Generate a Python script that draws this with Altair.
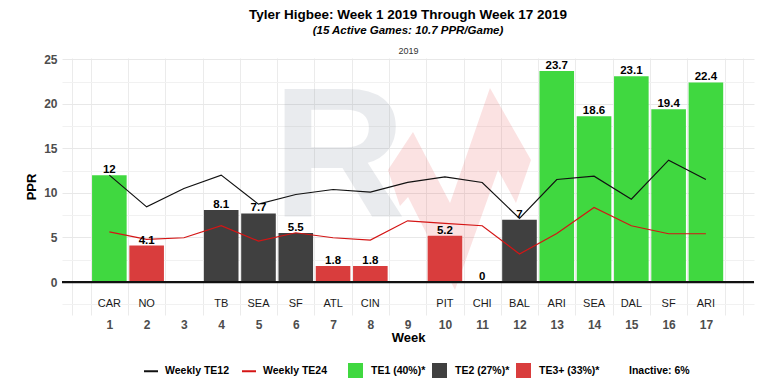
import altair as alt
import pandas as pd

# ---------------- data ----------------
weeks = list(range(1, 18))
opponents = ["CAR", "NO", "", "TB", "SEA", "SF", "ATL", "CIN", "", "PIT", "CHI", "BAL",
             "ARI", "SEA", "DAL", "SF", "ARI"]
ppr = [12, 4.1, None, 8.1, 7.7, 5.5, 1.8, 1.8, None, 5.2, 0, 7, 23.7, 18.6, 23.1, 19.4, 22.4]
tiers = ["TE1", "TE3+", None, "TE2", "TE2", "TE2", "TE3+", "TE3+", None, "TE3+", "TE3+", "TE2",
         "TE1", "TE1", "TE1", "TE1", "TE1"]
te12 = [12.0, 8.44, 10.5, 12.0, 8.74, 9.83, 10.39, 10.09, 11.18, 11.8, 11.18, 7.14,
        11.51, 11.88, 9.3, 13.68, 11.51]
te24 = [5.64, 4.78, 4.97, 6.32, 4.6, 5.53, 4.97, 4.71, 6.87, 6.58, 6.32, 3.14,
        5.46, 8.37, 6.32, 5.42, 5.42]

tier_labels = {"TE1": "TE1 (40%)*", "TE2": "TE2 (27%)*", "TE3+": "TE3+ (33%)*"}
inactive_label = "Inactive: 6%"
line_names = ["Weekly TE12", "Weekly TE24"]
season = "2019"
title_text = "Tyler Higbee: Week 1 2019 Through Week 17 2019"
subtitle_text = "(15 Active Games: 10.7 PPR/Game)"

games = pd.DataFrame({"week": weeks, "opp": opponents, "ppr": ppr, "tier": tiers})
games = games.dropna(subset=["ppr"]).copy()
games["tier_label"] = games["tier"].map(tier_labels)

lines = pd.DataFrame({
    "week": weeks * 2,
    "value": te12 + te24,
    "series": [line_names[0]] * len(weeks) + [line_names[1]] * len(weeks),
})
logo = pd.DataFrame({"logo": ["R"]})

# ---------------- styles ----------------
SANS = "'Liberation Sans', Arial, sans-serif"
GREEN, DARK, RED = "#40d840", "#404040", "#d93d3d"

xs = alt.Scale(domain=[-0.27, 18.29], nice=False, zero=False, padding=0)
ys = alt.Scale(domain=[-3.7, 25.15], nice=False, zero=False, padding=0)

x_vals = [i * 0.5 for i in range(37)]
x_axis = alt.Axis(
    values=x_vals,
    labelExpr="datum.value >= 1 && datum.value <= 17 && datum.value % 1 == 0 ? datum.value : ''",
    grid=True, gridColor="#ebebeb",
    gridOpacity={"condition": {"test": "datum.value % 1 != 0 || datum.value == 0 || datum.value == 18",
                               "value": 1}, "value": 0},
    ticks=False, domain=False,
    labelFont=SANS, labelFontWeight="bold", labelFontSize=12, labelColor="#4d4d4d",
    labelPadding=4, labelOverlap=False, labelFlush=False,
    title="Week", titleFont=SANS, titleFontSize=13, titleFontWeight="bold",
    titleColor="#000000", titlePadding=1,
)
top_axis = alt.Axis(
    orient="top", labels=False, ticks=False, domain=False, grid=False,
    title=season, titleFont=SANS, titleFontSize=9, titleFontWeight="normal",
    titleColor="#333333", titlePadding=3,
)
y_vals = [-2.5 + 2.5 * i for i in range(12)]
y_axis = alt.Axis(
    values=y_vals,
    labelExpr="datum.value >= 0 && datum.value % 5 == 0 ? datum.value : ''",
    grid=True,
    gridColor={"condition": {"test": "datum.value % 5 == 0", "value": "#e8e8e8"}, "value": "#f1f1f1"},
    ticks=False, domain=False,
    labelFont=SANS, labelFontWeight="bold", labelFontSize=12, labelColor="#4d4d4d",
    labelPadding=5, labelOverlap=False, labelFlush=False,
    title="PPR", titleFont=SANS, titleFontSize=13, titleFontWeight="bold",
    titleColor="#000000", titlePadding=5,
)

fill_scale = alt.Scale(domain=[tier_labels["TE1"], tier_labels["TE2"], tier_labels["TE3+"], inactive_label],
                       range=[GREEN, DARK, RED, "rgba(255,255,255,0)"])
stroke_scale = alt.Scale(domain=line_names, range=["#111111", "#d41515"])

# ---------------- layers ----------------
logo_r = alt.Chart(logo).mark_text(
    font=SANS, fontWeight="bold", fontSize=185, color="#5f6b80", opacity=0.13,
    align="center", baseline="alphabetic",
).encode(x=alt.value(277), y=alt.value(159), text="logo:N")

arrow_path = ("M -0.681 -0.181 L -0.443 -0.543 L -0.090 0.133 L 0.290 -0.962 L 0.681 -0.276 "
              "L 0.538 0.133 L 0.367 -0.181 L -0.043 0.962 L -0.490 0.076 L -0.567 0.162 Z")
logo_arrow = alt.Chart(logo).mark_point(
    shape=arrow_path, filled=True, size=44100, color="#e23c3c", opacity=0.15, strokeWidth=0,
).encode(x=alt.value(397.5), y=alt.value(131))

bars = alt.Chart(games).mark_bar(size=34.6).encode(
    x=alt.X("week:Q", scale=xs, axis=x_axis),
    y=alt.Y("ppr:Q", scale=ys, axis=y_axis),
    y2=alt.datum(0),
    fill=alt.Fill("tier_label:N", scale=fill_scale, legend=alt.Legend(
        title=None, orient="none", legendX=286, legendY=305, direction="horizontal",
        symbolType="square", symbolSize=225, symbolStrokeWidth=0, labelOffset=8,
        columnPadding=6, labelFont=SANS, labelFontWeight="bold", labelFontSize=10.5,
        labelColor="#000000", symbolOpacity=1)),
)

zero_rule = alt.Chart(logo).mark_rule(color="#111111", strokeWidth=2.2).encode(
    y=alt.datum(0, scale=ys, axis=y_axis))

main = alt.layer(logo_r, logo_arrow, bars, zero_rule)

line_layer = alt.Chart(lines).mark_line(strokeWidth=1.2).encode(
    x=alt.X("week:Q", scale=xs, axis=top_axis),
    y=alt.Y("value:Q", scale=ys, axis=y_axis),
    stroke=alt.Stroke("series:N", scale=stroke_scale, legend=alt.Legend(
        title=None, orient="none", legendX=81, legendY=305, direction="horizontal",
        symbolType="stroke", symbolSize=196, symbolStrokeWidth=2, labelOffset=6,
        columnPadding=8, labelFont=SANS, labelFontWeight="bold", labelFontSize=10.5,
        labelColor="#000000")),
)

value_labels = alt.Chart(games).mark_text(
    font=SANS, fontWeight="bold", fontSize=11.5, color="#000000", baseline="alphabetic", dy=-2,
).encode(
    x=alt.X("week:Q", scale=xs, axis=None),
    y=alt.Y("ppr:Q", scale=ys, axis=y_axis),
    text=alt.Text("ppr:Q", format=".3~g"),
)
team_labels = alt.Chart(games).mark_text(
    font=SANS, fontSize=11, color="#1a1a1a", baseline="middle",
).encode(
    x=alt.X("week:Q", scale=xs, axis=None),
    y=alt.datum(-2.5, scale=ys, axis=y_axis),
    text="opp:N",
)
labels = alt.layer(value_labels, team_labels)

chart = alt.layer(main, line_layer, labels).resolve_axis(x="independent").properties(
    width=692, height=257,
    autosize=alt.AutoSizeParams(type="none"),
    padding={"left": 54, "top": 50, "right": 5, "bottom": 68},
    title=alt.TitleParams(
        text=title_text, subtitle=subtitle_text,
        font=SANS, fontSize=13.5, fontWeight="bold", color="#000000",
        subtitleFont=SANS, subtitleFontSize=11.5, subtitleFontStyle="italic",
        subtitleFontWeight="bold", subtitleColor="#000000", subtitlePadding=3,
        anchor="middle", frame="group", offset=10,
    ),
    background="white",
).configure_view(stroke=None)

chart.save("out.html", embed_options={"renderer": "svg", "actions": False})
